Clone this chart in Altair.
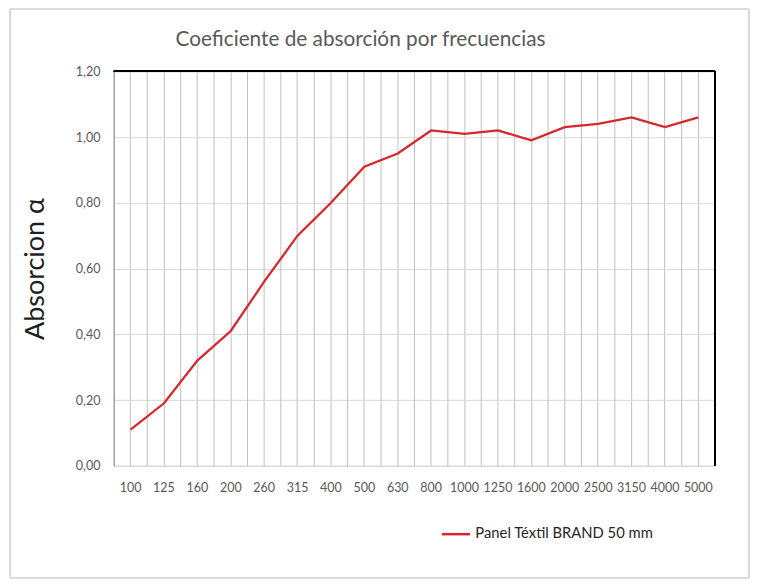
import altair as alt
import pandas as pd

freqs = ["100", "125", "160", "200", "260", "315", "400", "500", "630", "800",
         "1000", "1250", "1600", "2000", "2500", "3150", "4000", "5000"]
alpha = [0.11, 0.19, 0.32, 0.41, 0.56, 0.70, 0.80, 0.91, 0.95, 1.02,
         1.01, 1.02, 0.99, 1.03, 1.04, 1.06, 1.03, 1.06]
series_name = "Panel Téxtil BRAND 50 mm"
title_text = "Coeficiente de absorción por frecuencias"
y_ticks = [0.0, 0.2, 0.4, 0.6, 0.8, 1.0, 1.2]

df = pd.DataFrame({"freq": freqs, "alpha": alpha, "series": [series_name] * len(freqs)})

FONT = "Lato"
W, H = 602, 395

xscale = alt.Scale(type="band", paddingInner=0, paddingOuter=0)
xaxis = alt.Axis(title=None, labelAngle=0, grid=True, gridColor="#BFBFBF",
                 bandPosition=0.5, ticks=False, domainColor="#D9D9D9",
                 labelPadding=16, labelFontSize=12.5, labelColor="#595959",
                 labelFont=FONT)

base = alt.Chart(df)

# vertical boundary lines between categories
bounds = base.mark_rule(color="#BFBFBF", strokeWidth=1).encode(
    x=alt.X("freq:N", sort=freqs, scale=xscale, bandPosition=0, axis=xaxis),
    y=alt.value(0),
    y2=alt.value(H),
)

line = base.mark_line(color="#D9262B", strokeWidth=2.25).encode(
    x=alt.X("freq:N", sort=freqs, scale=xscale, bandPosition=0.5, axis=xaxis),
    y=alt.Y("alpha:Q", scale=alt.Scale(domain=[0, 1.2], nice=False),
            axis=alt.Axis(title="Absorcion α", values=y_ticks, grid=True,
                          gridColor="#D9D9D9", ticks=False, domainColor="#868686",
                          labelExpr="replace(format(datum.value, '.2f'), '.', ',')",
                          labelPadding=14, labelFontSize=12.5, labelColor="#595959",
                          labelFont=FONT, titleFont=FONT, titleFontSize=27,
                          titleFontWeight="normal", titleColor="#1F1F1F",
                          titlePadding=26)),
    color=alt.Color("series:N", scale=alt.Scale(range=["#D9262B"]),
                    legend=alt.Legend(orient="none", legendX=327, legendY=448,
                                      title=None, symbolType="stroke",
                                      symbolStrokeWidth=2.5, symbolSize=800,
                                      labelFontSize=14.8, labelColor="#262626",
                                      labelFont=FONT, labelLimit=400, padding=0)),
)

top_rule = base.mark_rule(color="#000000", strokeWidth=1).encode(
    x=alt.value(0), x2=alt.value(W), y=alt.value(0)
)
right_rule = base.mark_rule(color="#000000", strokeWidth=1).encode(
    x=alt.value(W), y=alt.value(0), y2=alt.value(H)
)
frame = base.mark_rect(fill=None, stroke="#D9D9D9", strokeWidth=1).encode(
    x=alt.value(-104), x2=alt.value(636), y=alt.value(-62), y2=alt.value(507)
)

title_df = pd.DataFrame({"t": [title_text]})
title = alt.Chart(title_df).mark_text(
    font=FONT, fontSize=20.8, color="#595959", align="center", baseline="alphabetic"
).encode(text="t:N", x=alt.value(247), y=alt.value(-25))

chart = alt.layer(bounds, line, top_rule, right_rule, frame, title).properties(
    width=W, height=H,
    padding={"left": 106, "top": 63, "right": 36, "bottom": 113},
    autosize=alt.AutoSizeParams(type="none"),
).configure_view(stroke=None).configure(background="white")

chart.save("out.html", embed_options={"renderer": "svg", "actions": False})
